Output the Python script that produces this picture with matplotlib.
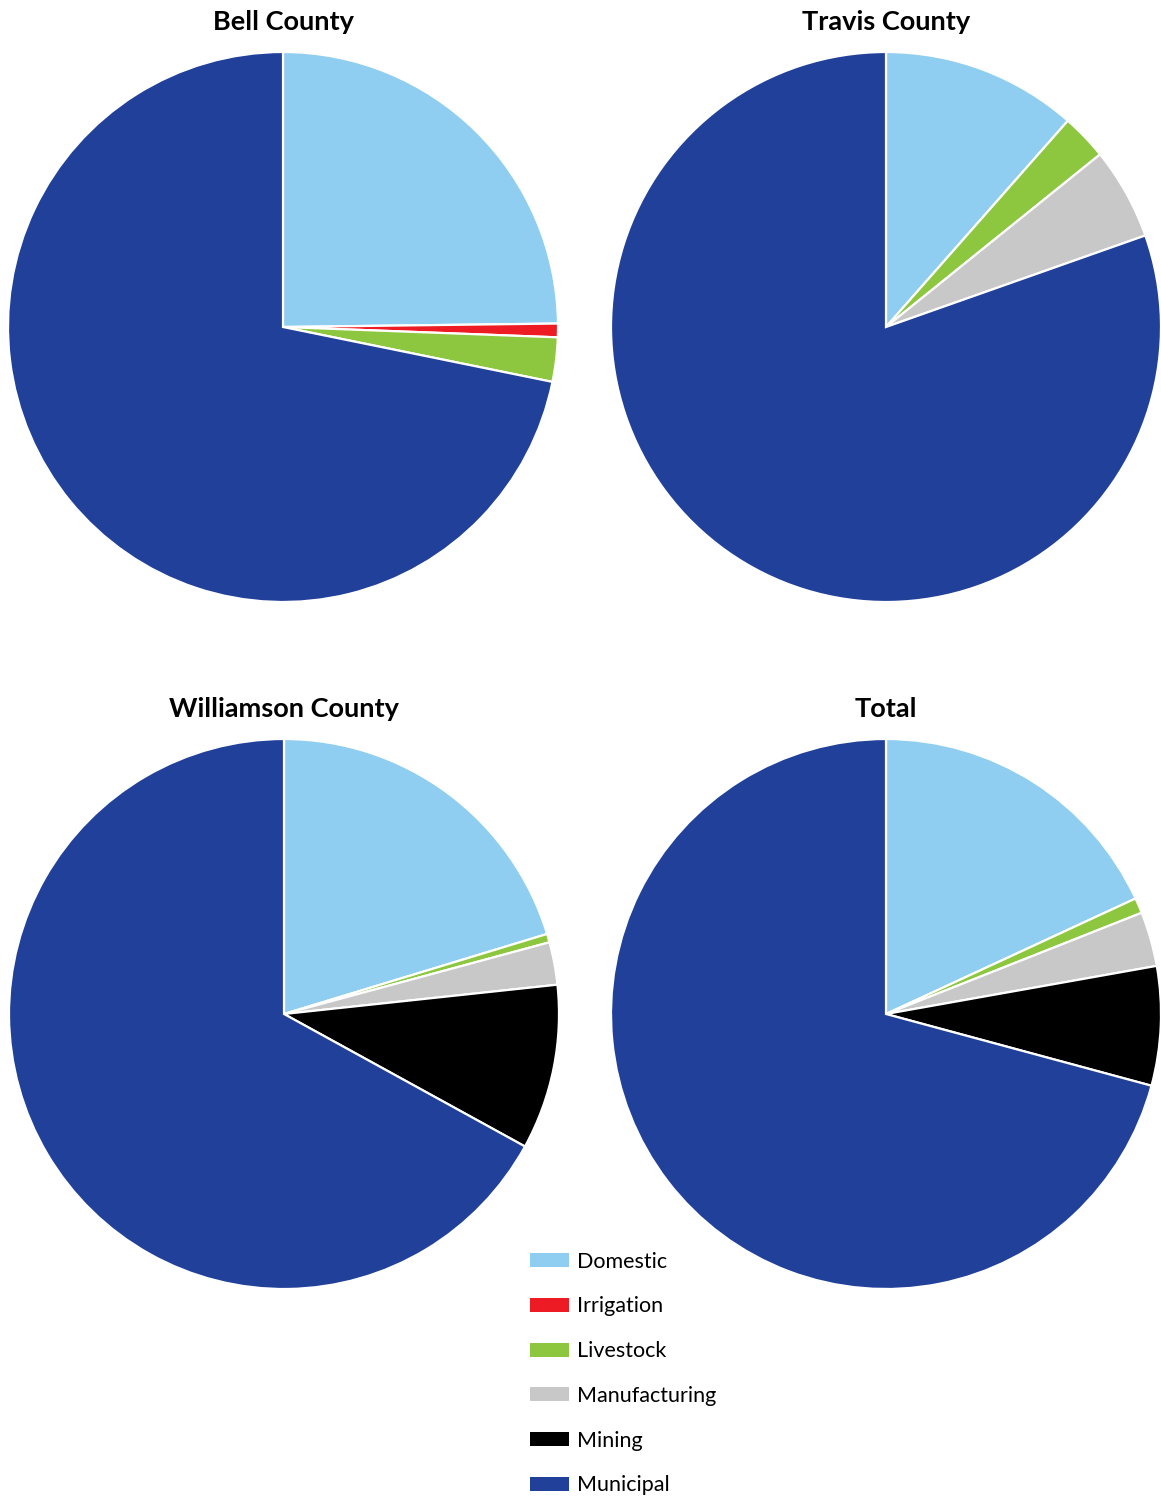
import matplotlib
matplotlib.use("Agg")
import matplotlib.pyplot as plt
from matplotlib.patches import Patch

plt.rcParams['font.family'] = ['Lato', 'DejaVu Sans']

categories = ["Domestic", "Irrigation", "Livestock", "Manufacturing", "Mining", "Municipal"]
colors = ["#8FCDF1", "#ED1C24", "#8DC63F", "#C8C8C9", "#000000", "#21409A"]

titles = ["Bell County", "Travis County", "Williamson County", "Total"]
bell = [24.8, 0.8, 2.6, 0.0, 0.0, 71.8]
travis = [11.5, 0.0, 2.7, 5.4, 0.0, 80.4]
williamson = [20.3, 0.0, 0.5, 2.5, 9.7, 67.0]
total = [18.1, 0.0, 0.9, 3.2, 7.0, 70.8]
series = [bell, travis, williamson, total]

W, H = 1161, 1498
fig = plt.figure(figsize=(W / 100, H / 100), dpi=100)

centers = [(283, 327), (886, 327), (284, 1014), (886, 1014)]
r = 275
for (cx, cy), title, vals in zip(centers, titles, series):
    ax = fig.add_axes([(cx - r) / W, (H - cy - r) / H, 2 * r / W, 2 * r / H])
    v = [x for x in vals if x > 0]
    c = [col for x, col in zip(vals, colors) if x > 0]
    ax.pie(v, colors=c, startangle=90, counterclock=False, radius=1,
           wedgeprops=dict(edgecolor="white", linewidth=1.6))
    ax.set_xlim(-1, 1)
    ax.set_ylim(-1, 1)
    ax.set_aspect("equal")
    ax.axis("off")
    fig.text(cx / W, (H - (cy - r - 30)) / H, title, ha="center", va="center",
             fontsize=19.5, fontweight="bold")

handles = [Patch(facecolor=col, edgecolor="none", label=lab) for col, lab in zip(colors, categories)]
leg = fig.legend(handles=handles, loc="upper left",
                 bbox_to_anchor=(521 / W, (H - 1243) / H), frameon=False,
                 fontsize=15.5, handlelength=1.85, handleheight=0.62,
                 labelspacing=1.15, handletextpad=0.35, borderaxespad=0)

fig.savefig("out.png", dpi=100)
